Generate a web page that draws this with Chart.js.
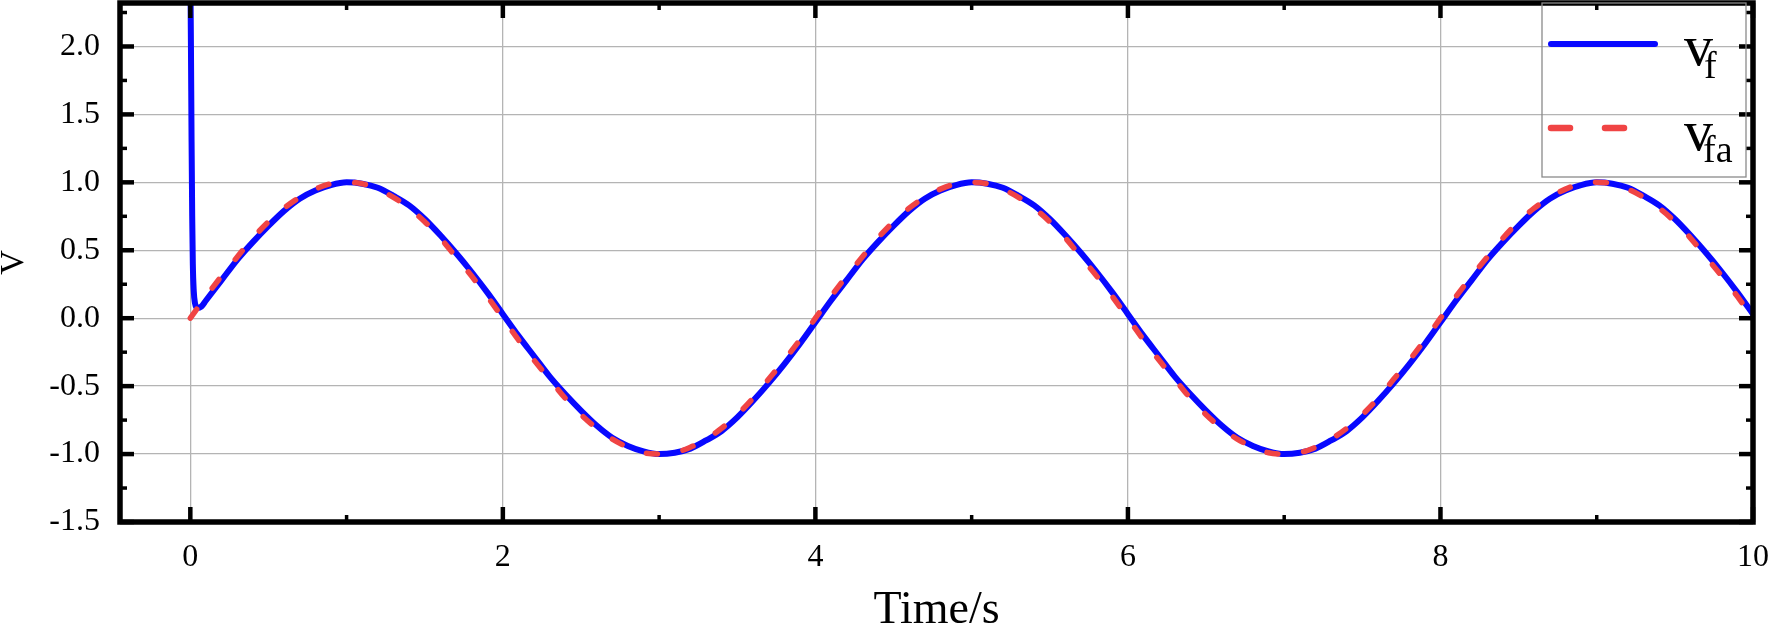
<!DOCTYPE html>
<html><head><meta charset="utf-8">
<script src="https://cdn.jsdelivr.net/npm/chart.js@4.4.0/dist/chart.umd.min.js"></script>
<style>html,body{margin:0;padding:0;background:#fff}#wrap{width:1770px;height:630px;position:relative}</style>
</head><body><div id="wrap"><canvas id="c"></canvas></div>
<script>
// ---- data ----
const timeA = [0,0.1,0.2,0.3,0.4,0.5,0.6,0.7,0.8,0.9,1,1.1,1.2,1.3,1.4,1.5,1.6,1.7,1.8,1.9,2,2.1,2.2,2.3,2.4,2.5,2.6,2.7,2.8,2.9,3,3.1,3.2,3.3,3.4,3.5,3.6,3.7,3.8,3.9,4,4.1,4.2,4.3,4.4,4.5,4.6,4.7,4.8,4.9,5,5.1,5.2,5.3,5.4,5.5,5.6,5.7,5.8,5.9,6,6.1,6.2,6.3,6.4,6.5,6.6,6.7,6.8,6.9,7,7.1,7.2,7.3,7.4,7.5,7.6,7.7,7.8,7.9,8,8.1,8.2,8.3,8.4,8.5,8.6,8.7,8.8,8.9,9,9.1,9.2,9.3,9.4,9.5,9.6,9.7,9.8,9.9,10];
const vfa = [0,0.16,0.31,0.45,0.59,0.71,0.81,0.89,0.95,0.99,1.00,0.99,0.95,0.89,0.81,0.71,0.59,0.45,0.31,0.16,0,
 -0.16,-0.31,-0.45,-0.59,-0.71,-0.81,-0.89,-0.95,-0.99,-1.00,-0.99,-0.95,-0.89,-0.81,-0.71,-0.59,-0.45,-0.31,-0.16,0,
 0.16,0.31,0.45,0.59,0.71,0.81,0.89,0.95,0.99,1.00,0.99,0.95,0.89,0.81,0.71,0.59,0.45,0.31,0.16,0,
 -0.16,-0.31,-0.45,-0.59,-0.71,-0.81,-0.89,-0.95,-0.99,-1.00,-0.99,-0.95,-0.89,-0.81,-0.71,-0.59,-0.45,-0.31,-0.16,0,
 0.16,0.31,0.45,0.59,0.71,0.81,0.89,0.95,0.99,1.00,0.99,0.95,0.89,0.81,0.71,0.59,0.45,0.31,0.16,0];
const timeF = [0,0.004,0.008,0.012,0.016,0.022,0.03,0.045,0.07,0.1,0.2,0.3,0.4,0.5,0.6,0.7,0.8,0.9,1,1.1,1.2,1.3,1.4,1.5,1.6,1.7,1.8,1.9,2,2.1,2.2,2.3,2.4,2.5,2.6,2.7,2.8,2.9,3,3.1,3.2,3.3,3.4,3.5,3.6,3.7,3.8,3.9,4,4.1,4.2,4.3,4.4,4.5,4.6,4.7,4.8,4.9,5,5.1,5.2,5.3,5.4,5.5,5.6,5.7,5.8,5.9,6,6.1,6.2,6.3,6.4,6.5,6.6,6.7,6.8,6.9,7,7.1,7.2,7.3,7.4,7.5,7.6,7.7,7.8,7.9,8,8.1,8.2,8.3,8.4,8.5,8.6,8.7,8.8,8.9,9,9.1,9.2,9.3,9.4,9.5,9.6,9.7,9.8,9.9,10];
const vf = [2.6,2.0,1.3,0.75,0.4,0.2,0.11,0.075,0.085,0.13,0.28,0.43,0.56,0.68,0.79,0.88,0.94,0.98,1.00,0.99,0.96,0.90,0.83,0.73,0.61,0.48,0.34,0.19,0.03,
 -0.13,-0.28,-0.43,-0.56,-0.68,-0.79,-0.88,-0.94,-0.98,-1.00,-0.99,-0.96,-0.90,-0.83,-0.73,-0.61,-0.48,-0.34,-0.19,-0.03,
 0.13,0.28,0.43,0.56,0.68,0.79,0.88,0.94,0.98,1.00,0.99,0.96,0.90,0.83,0.73,0.61,0.48,0.34,0.19,0.03,
 -0.13,-0.28,-0.43,-0.56,-0.68,-0.79,-0.88,-0.94,-0.98,-1.00,-0.99,-0.96,-0.90,-0.83,-0.73,-0.61,-0.48,-0.34,-0.19,-0.03,
 0.13,0.28,0.43,0.56,0.68,0.79,0.88,0.94,0.98,1.00,0.99,0.96,0.90,0.83,0.73,0.61,0.48,0.34,0.19,0.03];
const xMajorTicks = [0,2,4,6,8,10];
const xMinorTicks = [1,3,5,7,9];
const yMajorTicks = [-1.5,-1.0,-0.5,0,0.5,1.0,1.5,2.0];
const yMinorTicks = [-1.25,-0.75,-0.25,0.25,0.75,1.25,1.75,2.25];
const seriesNames = ['v', 'v'];
const seriesSubs = ['f', 'fa'];
const xTitle = 'Time/s';
const yTitle = 'V';

const BLUE = '#0808ff', RED = '#f04444';
const SERIF = '"Liberation Serif", "DejaVu Serif", serif';

const framePlugin = {
  id: 'frame',
  afterDraw(chart) {
    const {ctx, chartArea: a, scales: {x, y}} = chart;
    ctx.save();
    ctx.strokeStyle = '#000';
    ctx.lineCap = 'butt';
    const tick = (x1, y1, x2, y2, w) => { ctx.lineWidth = w; ctx.beginPath(); ctx.moveTo(x1, y1); ctx.lineTo(x2, y2); ctx.stroke(); };
    xMajorTicks.forEach(v => { const p = x.getPixelForValue(v); tick(p, a.bottom, p, a.bottom - 15, 4.5); tick(p, a.top, p, a.top + 15, 4.5); });
    xMinorTicks.forEach(v => { const p = x.getPixelForValue(v); tick(p, a.bottom, p, a.bottom - 7, 3.5); tick(p, a.top, p, a.top + 7, 3.5); });
    yMajorTicks.forEach(v => { const p = y.getPixelForValue(v); tick(a.left, p, a.left + 14, p, 4.5); tick(a.right, p, a.right - 14, p, 4.5); });
    yMinorTicks.forEach(v => { const p = y.getPixelForValue(v); tick(a.left, p, a.left + 7, p, 3.5); tick(a.right, p, a.right - 7, p, 3.5); });
    ctx.lineWidth = 5.5;
    ctx.strokeRect(a.left, a.top, a.right - a.left, a.bottom - a.top);
    // legend
    const bx = 1542, by = a.top, bw = 1746 - 1542, bh = 177 - a.top;
    ctx.strokeStyle = '#8a8a8a';
    ctx.lineWidth = 1.3;
    ctx.strokeRect(bx, by, bw, bh);
    ctx.lineCap = 'round';
    ctx.strokeStyle = BLUE; ctx.lineWidth = 6;
    ctx.beginPath(); ctx.moveTo(1551, 44); ctx.lineTo(1655, 44); ctx.stroke();
    ctx.strokeStyle = RED; ctx.lineWidth = 6.5;
    ctx.beginPath(); ctx.moveTo(1551, 128); ctx.lineTo(1570, 128); ctx.stroke();
    ctx.beginPath(); ctx.moveTo(1605, 128); ctx.lineTo(1624, 128); ctx.stroke();
    ctx.fillStyle = '#000';
    ctx.textBaseline = 'alphabetic';
    ctx.textAlign = 'left';
    ctx.font = '58px ' + SERIF;
    ctx.fillText(seriesNames[0], 1684, 65);
    ctx.fillText(seriesNames[1], 1684, 150);
    ctx.font = '38px ' + SERIF;
    ctx.fillText(seriesSubs[0], 1704, 78);
    ctx.fillText(seriesSubs[1], 1703, 162);
    ctx.restore();
  }
};

new Chart(document.getElementById('c'), {
  type: 'line',
  data: {
    datasets: [
      { label: 'vf', order: 2, data: timeF.map((t, i) => ({x: t, y: vf[i]})), borderColor: BLUE, borderWidth: 6,
        pointRadius: 0, cubicInterpolationMode: 'monotone', fill: false, borderCapStyle: 'round', borderJoinStyle: 'round' },
      { label: 'vfa', order: 1, data: timeA.map((t, i) => ({x: t, y: vfa[i]})), borderColor: RED, borderWidth: 5.5,
        borderDash: [11, 26], borderCapStyle: 'round', pointRadius: 0, cubicInterpolationMode: 'monotone', fill: false }
    ]
  },
  options: {
    responsive: true, maintainAspectRatio: false, animation: false, devicePixelRatio: 1,
    layout: { padding: { top: 3, right: 17, bottom: 0, left: 0 } },
    plugins: { legend: { display: false }, tooltip: { enabled: false } },
    scales: {
      x: {
        type: 'linear', min: -0.45, max: 10,
        afterBuildTicks: s => { s.ticks = xMajorTicks.map(v => ({value: v})); },
        afterFit: s => { s.height = 108; s.paddingLeft = 0; s.paddingRight = 0; },
        grid: { color: '#b4b4b4', lineWidth: 1.3, drawTicks: false },
        border: { display: false },
        ticks: { color: '#000', font: { family: SERIF, size: 32 }, padding: 16, maxRotation: 0, autoSkip: false,
                 callback: v => String(v) },
        title: { display: true, text: xTitle, color: '#000', font: { family: SERIF, size: 46, lineHeight: 1 }, padding: { top: 0, bottom: -4 } }
      },
      y: {
        type: 'linear', min: -1.5, max: 2.32,
        afterBuildTicks: s => { s.ticks = yMajorTicks.map(v => ({value: v})); },
        afterFit: s => { s.width = 120; s.paddingTop = 0; s.paddingBottom = 0; },
        grid: { color: '#b4b4b4', lineWidth: 1.3, drawTicks: false },
        border: { display: false },
        ticks: { color: '#000', font: { family: SERIF, size: 32 }, padding: 20, autoSkip: false,
                 callback: v => Number(v).toFixed(1) },
        title: { display: true, text: yTitle, color: '#000', font: { family: SERIF, size: 34, lineHeight: 1 }, padding: { top: -3, bottom: 0 } }
      }
    }
  },
  plugins: [framePlugin]
});
</script>
</body></html>
